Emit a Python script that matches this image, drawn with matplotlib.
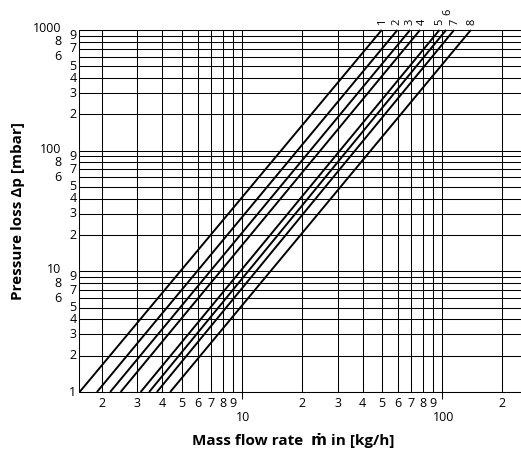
import numpy as np
import matplotlib.pyplot as plt
from matplotlib.ticker import LogLocator, NullFormatter

plt.rcParams['font.family'] = ['Open Sans', 'DejaVu Sans']

# pressure loss curves: flow at 1 mbar and at 1000 mbar (Δp ~ m²)
curve_ids = ['1', '2', '3', '4', '5', '6', '7', '8']
flow_at_1mbar = [1.54, 1.88, 2.19, 2.47, 3.11, 3.43, 3.75, 4.37]
flow_at_1000mbar = [49.9, 59.8, 69.2, 77.6, 97.0, 104.7, 114.8, 139.2]
dp_ends = [1, 1000]

x_lim = (1.53, 248)
y_lim = (1, 1000)

x_digit_ticks = [2, 3, 4, 5, 6, 7, 8, 9, 20, 30, 40, 50, 60, 70, 80, 90, 200]
x_decade_ticks = [10, 100]
y_digit_ticks = [1, 2, 3, 4, 5, 6, 7, 8, 9, 20, 30, 40, 50, 60, 70, 80, 90,
                 200, 300, 400, 500, 600, 700, 800, 900]
y_decade_ticks = [10, 100, 1000]

fig = plt.figure(figsize=(5.21, 4.54), dpi=100)
W, H = 521, 454
ax = fig.add_axes([79 / W, 1 - 392 / H, 1 - 79 / W, (392 - 30) / H])
ax.set_xscale('log')
ax.set_yscale('log')
ax.set_xlim(*x_lim)
ax.set_ylim(*y_lim)

for axis in (ax.xaxis, ax.yaxis):
    axis.set_major_locator(LogLocator(base=10))
    axis.set_minor_locator(LogLocator(base=10, subs=np.arange(2, 10)))
    axis.set_minor_formatter(NullFormatter())
ax.grid(which='both', color='black', lw=0.75)
ax.set_axisbelow(True)

ax.tick_params(which='both', labelbottom=False, labelleft=False)
ax.tick_params(axis='y', which='both', length=0)
ax.tick_params(axis='x', which='minor', length=0)
ax.tick_params(axis='x', which='major', length=5, width=0.75, direction='out')
for side in ('left', 'bottom', 'top'):
    ax.spines[side].set_linewidth(0.75)
ax.spines['right'].set_visible(False)

# small nudges so the crowded curve numbers stay apart
label_nudge = {'2': (-0.5, 3.5), '3': (-0.2, 3.5), '4': (1.6, 3.5),
               '6': (1.0, 11)}
for cid, m0, m1 in zip(curve_ids, flow_at_1mbar, flow_at_1000mbar):
    ax.plot([m0, m1], dp_ends, color='black', lw=1.4, solid_capstyle='butt',
            clip_on=False)
    ax.annotate(cid, (m1, dp_ends[1]), xytext=label_nudge.get(cid, (0.5, 3.5)),
                textcoords='offset points', rotation=90, ha='center',
                va='bottom', fontsize=8)

# x tick labels
xtr = ax.get_xaxis_transform()
for v in x_digit_ticks:
    ax.annotate(str(v)[0], (v, 0), xycoords=xtr, xytext=(0, -3.6),
                textcoords='offset points', ha='center', va='top', fontsize=9)
for v in x_decade_ticks:
    ax.annotate(str(v), (v, 0), xycoords=xtr, xytext=(1, -13.5),
                textcoords='offset points', ha='center', va='top', fontsize=9)

# y tick labels
ytr = ax.get_yaxis_transform()
for v in y_digit_ticks:
    d = str(v)[0]
    dx = -12.5 if d in ('6', '8') else -1.8
    ax.annotate(d, (0, v), xycoords=ytr, xytext=(dx, 0),
                textcoords='offset points', ha='right', va='center',
                fontsize=9)
for v in y_decade_ticks:
    ax.annotate(str(v), (0, v), xycoords=ytr, xytext=(-12.5, 1.2),
                textcoords='offset points', ha='right', va='center',
                fontsize=9)

fig.text(293 / W, 1 - 441 / H, 'Mass flow rate  ṁ in [kg/h]', ha='center',
         va='center', fontsize=11, fontweight='bold')
fig.text(18 / W, 1 - 211 / H, 'Pressure loss Δp [mbar]', ha='center',
         va='center', rotation=90, fontsize=11, fontweight='bold')

fig.savefig('out.png', dpi=100)
